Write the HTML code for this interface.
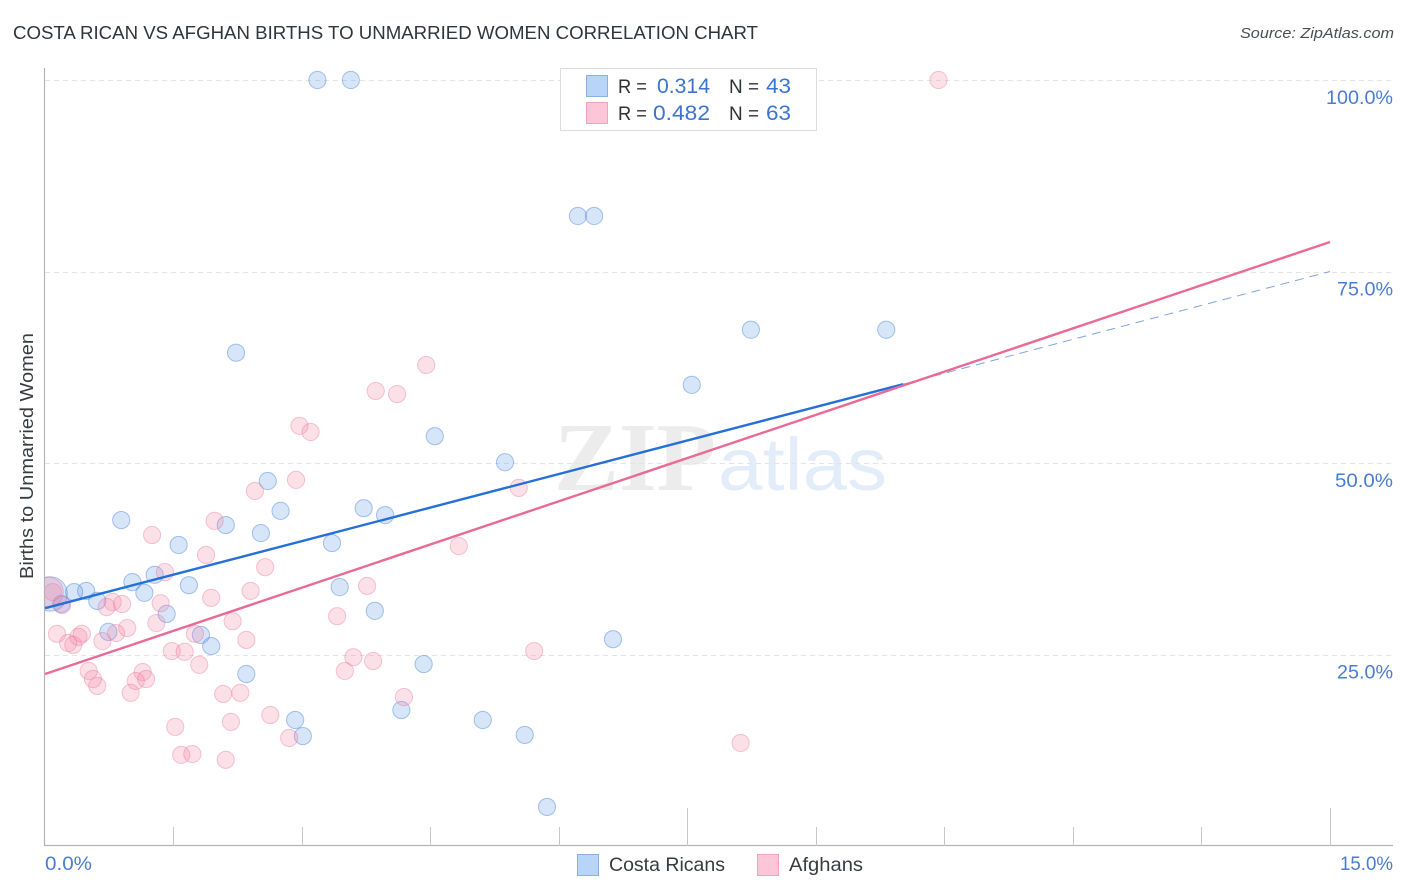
<!DOCTYPE html>
<html>
<head>
<meta charset="utf-8">
<title>Costa Rican vs Afghan Births to Unmarried Women Correlation Chart</title>
<style>
html,body{margin:0;padding:0;background:#fff;}
svg{display:block;}
text{font-family:"Liberation Sans",sans-serif;}
</style>
</head>
<body>
<svg id="chart" xmlns="http://www.w3.org/2000/svg" width="1406" height="892" viewBox="0 0 1406 892">
  <defs>
    <clipPath id="plot-clip"><rect x="45" y="60" width="1348" height="786"/></clipPath>
  </defs>
  <rect x="0" y="0" width="1406" height="892" fill="#ffffff"/>
  <text x="13" y="39" font-size="18.5" fill="#2e353d" textLength="745" lengthAdjust="spacingAndGlyphs">COSTA RICAN VS AFGHAN BIRTHS TO UNMARRIED WOMEN CORRELATION CHART</text>
  <text x="1394" y="38" font-size="15" font-style="italic" fill="#4a4f55" text-anchor="end" textLength="154" lengthAdjust="spacingAndGlyphs">Source: ZipAtlas.com</text>
  <text transform="translate(33,456) rotate(-90)" font-size="18" fill="#383c40" text-anchor="middle" textLength="246" lengthAdjust="spacingAndGlyphs">Births to Unmarried Women</text>

  <text x="554" y="490" font-size="98" font-weight="700" fill="#ececec" style="font-family:'Liberation Serif',serif" textLength="162" lengthAdjust="spacingAndGlyphs">ZIP</text>
  <text x="718" y="490" font-size="74" fill="#e3edf9" textLength="169" lengthAdjust="spacingAndGlyphs">atlas</text>

  <g id="grid"></g>
  <g id="axes"></g>
  <g id="marks" clip-path="url(#plot-clip)"></g>
  <g id="trends"></g>
  <g id="labels"></g>

  <g>
    <rect x="560.5" y="68.5" width="256" height="62" fill="#ffffff" stroke="#dcdcdc" stroke-width="1"/>
    <rect x="586.5" y="75.5" width="21" height="21" fill="#b8d4f8" stroke="#8db0de"/>
    <text x="618" y="93" font-size="19.5" fill="#2e3237" textLength="29" lengthAdjust="spacingAndGlyphs">R =</text>
    <text x="657" y="93" font-size="21" fill="#3a74cf" textLength="53" lengthAdjust="spacingAndGlyphs">0.314</text>
    <text x="729" y="93" font-size="19.5" fill="#2e3237" textLength="30" lengthAdjust="spacingAndGlyphs">N =</text>
    <text x="766" y="93" font-size="21" fill="#3a74cf" textLength="25" lengthAdjust="spacingAndGlyphs">43</text>
    <rect x="586.5" y="102.5" width="21" height="21" fill="#fcc5d8" stroke="#f0a3bd"/>
    <text x="618" y="120" font-size="19.5" fill="#2e3237" textLength="29" lengthAdjust="spacingAndGlyphs">R =</text>
    <text x="653" y="120" font-size="21" fill="#3a74cf" textLength="57" lengthAdjust="spacingAndGlyphs">0.482</text>
    <text x="729" y="120" font-size="19.5" fill="#2e3237" textLength="30" lengthAdjust="spacingAndGlyphs">N =</text>
    <text x="766" y="120" font-size="21" fill="#3a74cf" textLength="25" lengthAdjust="spacingAndGlyphs">63</text>
  </g>

  <g>
    <rect x="577.5" y="854.5" width="21" height="21" fill="#b8d4f8" stroke="#8db0de"/>
    <text x="609" y="871" font-size="19.5" fill="#383c40" textLength="116" lengthAdjust="spacingAndGlyphs">Costa Ricans</text>
    <rect x="757.5" y="854.5" width="21" height="21" fill="#fcc5d8" stroke="#f0a3bd"/>
    <text x="789" y="871" font-size="19.5" fill="#383c40" textLength="74" lengthAdjust="spacingAndGlyphs">Afghans</text>
  </g>
</svg>
<script>
// ---- chart data (x: percent 0-15, y: percent 0-100) ----
const xTickValues = [1.5, 3, 4.5, 6, 7.5, 9, 10.5, 12, 13.5, 15];
const xMajorTicks = [7.5, 15];
const xLabelValues = ["0.0%", "15.0%"];
const yGridValues = [25, 50, 75, 100];
const yTickLabels = ["25.0%", "50.0%", "75.0%", "100.0%"];

const costaX = [3.18,3.57,6.22,6.41,8.24,9.82,2.23,7.55,4.55,5.37,2.60,0.89,2.75,3.72,3.97,2.11,2.52,3.35,1.56,1.28,1.02,1.68,1.16,0.48,0.34,0.61,0.19,1.42,3.85,3.44,0.74,1.82,1.94,6.63,4.42,2.35,4.16,2.92,3.01,5.11,5.60,5.86,0.06];
const costaY = [100,100,82.25,82.25,67.4,67.4,64.4,60.2,53.5,50.1,47.65,42.55,43.75,44.1,43.2,41.9,40.85,39.55,39.3,35.4,34.45,34.05,33.05,33.3,33.15,32.0,31.6,30.3,30.7,33.8,27.95,27.55,26.1,27.0,23.75,22.45,17.75,16.45,14.35,16.45,14.5,5.1,32.9];
const costaWeight = [1,1,1,1,1,1,1,1,1,1,1,1,1,1,1,1,1,1,1,1,1,1,1,1,1,1,1,1,1,1,1,1,1,1,1,1,1,1,1,1,1,1,4];

const afghanX = [10.43,4.45,3.86,4.11,2.97,3.10,2.93,2.45,5.53,1.98,1.25,4.83,1.88,2.57,1.40,2.40,3.76,1.94,0.09,0.79,0.90,0.72,1.35,3.41,2.19,1.30,0.96,0.14,0.43,0.39,0.27,0.33,0.67,0.83,1.75,2.35,5.71,1.48,1.63,3.60,3.83,1.80,3.50,1.14,0.51,1.06,1.18,0.56,0.61,1.00,2.08,2.28,4.19,2.63,2.17,1.52,2.85,8.12,1.59,1.72,2.11,0.20,0.04];
const afghanY = [100,62.8,59.4,59.0,54.85,54.05,47.8,46.35,46.75,42.45,40.6,39.15,38.0,36.4,35.75,33.3,33.95,32.4,33.15,31.85,31.6,31.2,31.7,30.0,29.35,29.1,28.45,27.7,27.7,27.3,26.5,26.25,26.75,27.8,27.7,26.9,25.45,25.45,25.35,24.65,24.15,23.65,22.85,22.7,22.85,21.55,21.8,21.8,20.9,20.0,19.85,20.0,19.45,17.1,16.2,15.55,14.1,13.45,11.9,12.0,11.25,31.45,33.15];
const afghanWeight = [1,1,1,1,1,1,1,1,1,1,1,1,1,1,1,1,1,1,1,1,1,1,1,1,1,1,1,1,1,1,1,1,1,1,1,1,1,1,1,1,1,1,1,1,1,1,1,1,1,1,1,1,1,1,1,1,1,1,1,1,1,1,3];

const costaTrendX = [0, 10.02];
const costaTrendY = [31.05, 60.3];
const costaForecastX = [10.02, 15];
const costaForecastY = [60.3, 75.0];
const afghanTrendX = [0, 15];
const afghanTrendY = [22.45, 78.85];

// ---- axis functions ----
const NS = 'http://www.w3.org/2000/svg';
function xScale(v){ return 45 + (v / 15) * 1285; }
function yScale(v){ return 846 - (v / 100) * 766; }
function rScale(w){ return 8.6 * Math.sqrt(w); }
function make(tag, parentId){
  const el = document.createElementNS(NS, tag);
  document.getElementById(parentId).appendChild(el);
  return el;
}

// gridlines
yGridValues.forEach(function(v){
  const g = make('line', 'grid');
  
  
  g.setAttribute('x1', 45);
  g.setAttribute('x2', 1393);
  g.setAttribute('y1', Math.round(yScale(v)) + 0.5);
  g.setAttribute('y2', Math.round(yScale(v)) + 0.5);
  g.setAttribute('stroke', '#e4e4e4');
  g.setAttribute('stroke-width', 1);
  g.setAttribute('stroke-dasharray', '5 4');
});

// axes
const yAxis = make('line', 'axes');


yAxis.setAttribute('x1', 44.5);
yAxis.setAttribute('x2', 44.5);
yAxis.setAttribute('y1', 68);
yAxis.setAttribute('y2', 846);
yAxis.setAttribute('stroke', '#b4b4b4');
yAxis.setAttribute('stroke-width', 1.2);

const xAxis = make('line', 'axes');


xAxis.setAttribute('x1', 44);
xAxis.setAttribute('x2', 1393);
xAxis.setAttribute('y1', 845.5);
xAxis.setAttribute('y2', 845.5);
xAxis.setAttribute('stroke', '#b4b4b4');
xAxis.setAttribute('stroke-width', 1.2);

xTickValues.forEach(function(v){
  const t = make('line', 'axes');
  
  
  const px = Math.floor(xScale(v)) + 0.5;
  t.setAttribute('x1', px);
  t.setAttribute('x2', px);
  t.setAttribute('y1', 846);
  t.setAttribute('y2', xMajorTicks.indexOf(v) >= 0 ? 808 : 827);
  t.setAttribute('stroke', '#c8c8c8');
  t.setAttribute('stroke-width', 1);
});

// tick labels
const yLabelWidths = {"25.0%": 56, "50.0%": 58, "75.0%": 56, "100.0%": 67};
yGridValues.forEach(function(v, i){
  const t = make('text', 'labels');
  
  
  t.setAttribute('x', 1393);
  t.setAttribute('y', yScale(v) + 24);
  t.setAttribute('font-size', 19);
  t.setAttribute('fill', '#4a7cd2');
  t.setAttribute('text-anchor', 'end');
  t.setAttribute('textLength', yLabelWidths[yTickLabels[i]]);
  t.setAttribute('lengthAdjust', 'spacingAndGlyphs');
  t.textContent = yTickLabels[i];
});

const xLow = make('text', 'labels');


xLow.setAttribute('x', 45);
xLow.setAttribute('y', 870);
xLow.setAttribute('font-size', 19);
xLow.setAttribute('fill', '#4a7cd2');
xLow.setAttribute('textLength', 47);
xLow.setAttribute('lengthAdjust', 'spacingAndGlyphs');
xLow.textContent = xLabelValues[0];

const xHigh = make('text', 'labels');


xHigh.setAttribute('x', 1393);
xHigh.setAttribute('y', 870);
xHigh.setAttribute('font-size', 19);
xHigh.setAttribute('fill', '#4a7cd2');
xHigh.setAttribute('text-anchor', 'end');
xHigh.setAttribute('textLength', 53);
xHigh.setAttribute('lengthAdjust', 'spacingAndGlyphs');
xHigh.textContent = xLabelValues[1];

// points
costaX.forEach(function(v, i){
  const c = make('circle', 'marks');
  
  
  c.setAttribute('cx', xScale(v));
  c.setAttribute('cy', yScale(costaY[i]));
  c.setAttribute('r', rScale(costaWeight[i]));
  c.setAttribute('fill', 'rgba(106,160,232,0.27)');
  c.setAttribute('stroke', 'rgba(58,118,212,0.42)');
  c.setAttribute('stroke-width', 1);
});
afghanX.forEach(function(v, i){
  const c = make('circle', 'marks');
  
  
  c.setAttribute('cx', xScale(v));
  c.setAttribute('cy', yScale(afghanY[i]));
  c.setAttribute('r', rScale(afghanWeight[i]));
  c.setAttribute('fill', 'rgba(243,130,165,0.25)');
  c.setAttribute('stroke', 'rgba(232,110,150,0.38)');
  c.setAttribute('stroke-width', 1);
});

// trend lines
const costaForecast = make('line', 'trends');


costaForecast.setAttribute('x1', xScale(costaForecastX[0]));
costaForecast.setAttribute('y1', yScale(costaForecastY[0]));
costaForecast.setAttribute('x2', xScale(costaForecastX[1]));
costaForecast.setAttribute('y2', yScale(costaForecastY[1]));
costaForecast.setAttribute('stroke', '#7ea5e0');
costaForecast.setAttribute('stroke-width', 1);
costaForecast.setAttribute('stroke-dasharray', '9 6');

const costaTrend = make('line', 'trends');


costaTrend.setAttribute('x1', xScale(costaTrendX[0]));
costaTrend.setAttribute('y1', yScale(costaTrendY[0]));
costaTrend.setAttribute('x2', xScale(costaTrendX[1]));
costaTrend.setAttribute('y2', yScale(costaTrendY[1]));
costaTrend.setAttribute('stroke', '#2470d8');
costaTrend.setAttribute('stroke-width', 2.4);

const afghanTrend = make('line', 'trends');


afghanTrend.setAttribute('x1', xScale(afghanTrendX[0]));
afghanTrend.setAttribute('y1', yScale(afghanTrendY[0]));
afghanTrend.setAttribute('x2', xScale(afghanTrendX[1]));
afghanTrend.setAttribute('y2', yScale(afghanTrendY[1]));
afghanTrend.setAttribute('stroke', '#ea6a97');
afghanTrend.setAttribute('stroke-width', 2.4);
</script>
</body>
</html>
